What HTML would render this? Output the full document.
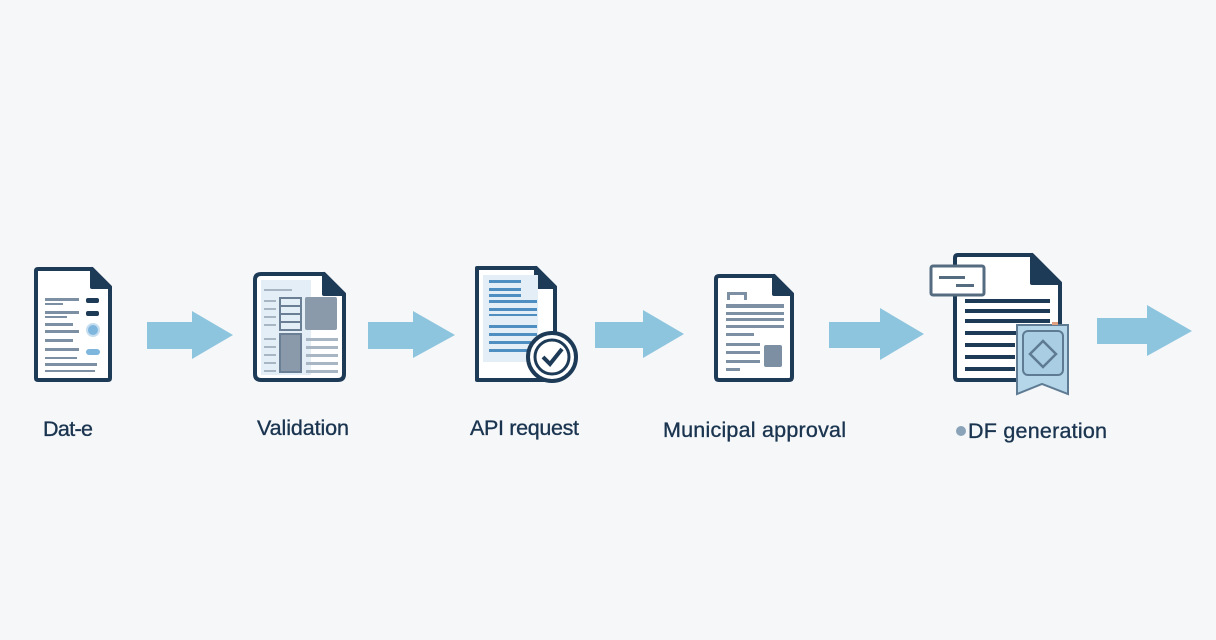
<!DOCTYPE html>
<html><head><meta charset="utf-8"><style>
html,body{margin:0;padding:0;background:#f5f7f9;}
svg{display:block}
text{font-family:"Liberation Sans",sans-serif;font-size:21.5px;fill:#1b3550;stroke:#1b3550;stroke-width:0.35;}
</style></head><body>
<svg width="1216" height="640" viewBox="0 0 1216 640" xmlns="http://www.w3.org/2000/svg">
<rect width="1216" height="640" fill="#f5f7f9"/>
<g fill="#8ec5de">
<polygon points="147,322 192,322 192,311 233,335 192,359 192,349 147,349"/>
<polygon points="368,322 413,322 413,311 455,335 413,358 413,349 368,349"/>
<polygon points="595,322 643,322 643,310 684,334 643,358 643,348 595,348"/>
<polygon points="829,322 880,322 880,308 924,334 880,360 880,348 829,348"/>
<polygon points="1097,318 1147,318 1147,305 1192,331 1147,356 1147,344 1097,344"/>
</g>
<g stroke="#1d3a57" stroke-width="4" stroke-linejoin="round">
<path d="M36,271 Q36,269 38,269 L92,269 L110,287 L110,378 Q110,380 108,380 L38,380 Q36,380 36,378 Z" fill="#fff"/>
<path d="M92,269 L92,287 L110,287 Z" fill="#1d3a57"/>
<path d="M255,280 Q255,274 261,274 L324,274 L344,294 L344,374 Q344,380 338,380 L261,380 Q255,380 255,374 Z" fill="#fff"/>
<path d="M324,274 L324,294 L344,294 Z" fill="#1d3a57"/>
<path d="M477,268 L536,268 L555,287 L555,380 L477,380 Z" fill="#fff"/>
<path d="M536,268 L536,287 L555,287 Z" fill="#1d3a57"/>
<path d="M716,279 Q716,276 719,276 L774,276 L792,294 L792,377 Q792,380 789,380 L719,380 Q716,380 716,377 Z" fill="#fff"/>
<path d="M774,276 L774,294 L792,294 Z" fill="#1d3a57"/>
<path d="M955,258 Q955,255 958,255 L1032,255 L1060,283 L1060,377 Q1060,380 1057,380 L958,380 Q955,380 955,377 Z" fill="#fff"/>
<path d="M1032,255 L1032,283 L1060,283 Z" fill="#1d3a57"/>
</g>
<g fill="#7d8fa3">
<rect x="45" y="298" width="34" height="3"/><rect x="45" y="303" width="18" height="2"/>
<rect x="45" y="311" width="34" height="3"/><rect x="45" y="316" width="22" height="2"/>
<rect x="45" y="323" width="28" height="3"/><rect x="45" y="330" width="34" height="3"/>
<rect x="45" y="339" width="28" height="3"/><rect x="45" y="348" width="34" height="3"/>
<rect x="45" y="357" width="32" height="2"/><rect x="45" y="363" width="52" height="3"/><rect x="45" y="370" width="50" height="2"/>
</g>
<rect x="86" y="298" width="13" height="5" rx="2" fill="#1d3a57"/>
<rect x="86" y="311" width="13" height="5" rx="2" fill="#1d3a57"/>
<circle cx="93" cy="330" r="6" fill="#7fb6de" stroke="#c6def0" stroke-width="2"/>
<rect x="86" y="349" width="14" height="6" rx="3" fill="#7fb6de"/>
<rect x="261" y="280" width="50" height="95" fill="#e3eef6"/>
<g fill="#a8b5c2">
<rect x="264" y="289" width="28" height="2"/>
<rect x="264" y="300" width="12" height="2"/><rect x="264" y="308" width="12" height="2"/><rect x="264" y="316" width="12" height="2"/><rect x="264" y="324" width="12" height="2"/>
<rect x="264" y="338" width="12" height="2"/><rect x="264" y="346" width="12" height="2"/><rect x="264" y="354" width="12" height="2"/><rect x="264" y="362" width="12" height="2"/><rect x="264" y="370" width="12" height="2"/>
<rect x="306" y="338" width="32" height="3"/><rect x="306" y="346" width="32" height="3"/><rect x="306" y="354" width="32" height="3"/><rect x="306" y="362" width="32" height="3"/><rect x="306" y="370" width="32" height="3"/>
</g>
<rect x="280" y="298" width="21" height="32" fill="#e3eef6" stroke="#6b7f94" stroke-width="2"/>
<g fill="#6b7f94"><rect x="280" y="305" width="21" height="2"/><rect x="280" y="313" width="21" height="2"/><rect x="280" y="321" width="21" height="2"/></g>
<rect x="280" y="334" width="21" height="38" fill="#8a9aab" stroke="#6b7f94" stroke-width="2"/>
<rect x="305" y="297" width="32" height="33" rx="2" fill="#8a9aab"/>
<rect x="483" y="275" width="55" height="87" fill="#e3eef6"/>
<g fill="#4f8ec0">
<rect x="489" y="280" width="32" height="3"/><rect x="489" y="288" width="32" height="3"/><rect x="489" y="294" width="32" height="3"/>
<rect x="489" y="300" width="48" height="3"/><rect x="489" y="308" width="48" height="3"/><rect x="489" y="314" width="48" height="2"/>
<rect x="489" y="325" width="48" height="3"/><rect x="489" y="333" width="48" height="3"/><rect x="489" y="341" width="42" height="3"/><rect x="489" y="349" width="40" height="3"/>
</g>
<circle cx="552" cy="357" r="24" fill="#fff" stroke="#1d3a57" stroke-width="4"/>
<circle cx="552" cy="357" r="17" fill="none" stroke="#1d3a57" stroke-width="3"/>
<path d="M543,357 L550,364 L562,349" fill="none" stroke="#1d3a57" stroke-width="4"/>
<g fill="#7d8fa3">
<path d="M727,300 L727,292 L747,292 L747,300 L744,300 L744,295 L730,295 L730,300 Z"/>
<rect x="726" y="304" width="58" height="4"/><rect x="726" y="312" width="58" height="3"/><rect x="726" y="318" width="58" height="3"/><rect x="726" y="325" width="58" height="3"/><rect x="726" y="333" width="28" height="3"/>
<rect x="726" y="343" width="34" height="3"/><rect x="726" y="351" width="34" height="3"/><rect x="726" y="360" width="34" height="3"/><rect x="726" y="368" width="14" height="3"/>
<rect x="764" y="345" width="18" height="22" rx="2"/>
</g>
<g fill="#1d3a57">
<rect x="965" y="299" width="85" height="4"/><rect x="965" y="309" width="85" height="4"/><rect x="965" y="319" width="85" height="4"/><rect x="965" y="331" width="85" height="4"/>
<rect x="965" y="343" width="50" height="4"/><rect x="965" y="355" width="50" height="4"/><rect x="965" y="367" width="50" height="4"/>
</g>
<rect x="931" y="266" width="53" height="29" rx="2" fill="#fff" stroke="#556b80" stroke-width="3"/>
<rect x="939" y="276" width="26" height="3" fill="#556b80"/><rect x="956" y="284" width="18" height="3" fill="#556b80"/>
<path d="M1017,325 L1068,325 L1068,394 L1042,384 L1017,394 Z" fill="#b5d6e8" stroke="#5e7b93" stroke-width="2"/>
<rect x="1023" y="331" width="40" height="44" rx="5" fill="#a9cde2" stroke="#5e7b93" stroke-width="2"/>
<path d="M1043,341 L1056,354 L1043,367 L1030,354 Z" fill="none" stroke="#5e7b93" stroke-width="2.5"/>
<rect x="1052" y="322" width="6" height="3" fill="#e0a080"/>
<text x="43" y="436" textLength="50">Dat-e</text>
<text x="257" y="435" textLength="92">Validation</text>
<text x="470" y="435" textLength="109">API request</text>
<text x="663" y="437" textLength="183">Municipal approval</text>
<circle cx="961" cy="431" r="5" fill="#8aa3b8"/>
<text x="968" y="438" textLength="139">DF generation</text>
</svg>
</body></html>
